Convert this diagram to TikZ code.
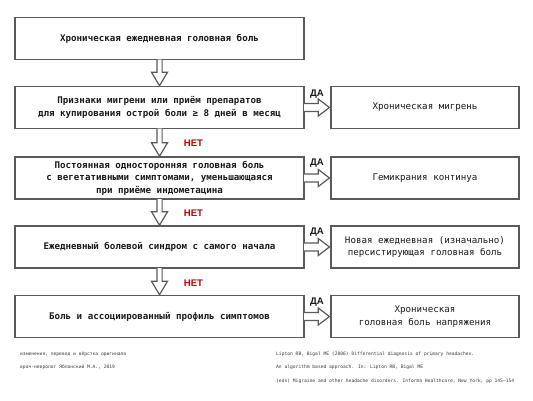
\documentclass[tikz,border=0pt]{standalone}
\usepackage{fontspec}
\setmainfont{DejaVu Sans Mono}
\setmonofont{DejaVu Sans Mono}
\newfontfamily\labelfont{Liberation Sans}
\usetikzlibrary{calc}
\definecolor{boxgray}{HTML}{5A5A5A}
\definecolor{txt}{HTML}{1A1A1A}
\definecolor{nored}{HTML}{C00000}
\newcommand\hollowdown[2]{%
  \draw[arrowline] ($(#1.south)+(-2.6,-0.7)$) -- ($(#2.north)+(-2.6,-13.5)$) -- ($(#2.north)+(-8,-13.5)$) -- (#2.north)
    -- ($(#2.north)+(8,-13.5)$) -- ($(#2.north)+(2.6,-13.5)$) -- ($(#1.south)+(2.6,-0.7)$);}
\newcommand\hollowright[2]{%
  \draw[arrowline] ($(#1.east)+(-0.7,-4)$) -- ($(#2.west)+(-12,-4)$) -- ($(#2.west)+(-12,-8.5)$) -- ($(#2.west)+(-0.8,0)$)
    -- ($(#2.west)+(-12,8.5)$) -- ($(#2.west)+(-12,4)$) -- ($(#1.east)+(-0.7,4)$);}
\begin{document}
\begin{tikzpicture}[x=1bp,y=-1bp,
  leftbox/.style={draw=boxgray, line width=1.5bp, fill=white, minimum width=289bp, minimum height=42bp,
    inner sep=0pt, align=center, text=txt, font=\bfseries\fontsize{9.2}{12.5}\selectfont},
  rightbox/.style={draw=boxgray, line width=1.5bp, fill=white, minimum width=188bp, minimum height=42bp,
    inner sep=0pt, align=center, text=txt, font=\fontsize{9.2}{12.5}\selectfont},
  arrowline/.style={draw=boxgray, line width=1.2bp, fill=white, line join=miter},
  yes/.style={text=txt, font=\labelfont\bfseries\fontsize{9.6}{10}\selectfont, inner sep=0pt},
  no/.style={text=nored, font=\labelfont\bfseries\fontsize{9.6}{10}\selectfont, inner sep=0pt},
  foot/.style={text=txt!85, font=\fontsize{4.65}{6}\selectfont, inner sep=0pt, anchor=west}]
\useasboundingbox[fill=white] (0,0) rectangle (533,400);

\node[leftbox] (b1) at (159.5,38.5) {Хроническая ежедневная головная боль};
\node[leftbox] (b2) at (159.5,107.5) {Признаки мигрени или приём препаратов\\для купирования острой боли ≥ 8 дней в месяц};
\node[leftbox] (b3) at (159.5,178) {Постоянная односторонняя головная боль\\с вегетативными симптомами, уменьшающаяся\\при приёме индометацина};
\node[leftbox] (b4) at (159.5,247) {Ежедневный болевой синдром с самого начала};
\node[leftbox] (b5) at (159.5,316.5) {Боль и ассоциированный профиль симптомов};

\node[rightbox] (r2) at (425,107.5) {Хроническая мигрень};
\node[rightbox] (r3) at (425,178) {Гемикрания континуа};
\node[rightbox] (r4) at (425,247) {Новая ежедневная (изначально)\\персистирующая головная боль};
\node[rightbox] (r5) at (425,316.5) {Хроническая\\головная боль напряжения};

\hollowdown{b1}{b2}
\hollowdown{b2}{b3}
\hollowdown{b3}{b4}
\hollowdown{b4}{b5}
\hollowright{b2}{r2}
\hollowright{b3}{r3}
\hollowright{b4}{r4}
\hollowright{b5}{r5}

\node[yes] (y2) at (317,94) {ДА};
\node[yes] (y3) at (317,163.5) {ДА};
\node[yes] (y4) at (317,232.5) {ДА};
\node[yes] (y5) at (317,302) {ДА};

\node[no] (n2) at (193.5,143) {НЕТ};
\node[no] (n3) at (193.5,213) {НЕТ};
\node[no] (n4) at (193.5,283) {НЕТ};

\node[foot] (f1) at (20,354) {изменения, перевод и вёрстка оригинала};
\node[foot] (f2) at (20,367) {врач-невролог Яблонский М.А., 2019};
\node[foot] (f3) at (276,354) {Lipton RB, Bigal ME (2006) Differential diagnosis of primary headaches.};
\node[foot] (f4) at (276,367.5) {An algorithm based approach. In: Lipton RB, Bigal ME};
\node[foot] (f5) at (276,381) {(eds) Migraine and other headache disorders. Informa Healthcare, New York, pp 145–154};
\end{tikzpicture}
\end{document}
